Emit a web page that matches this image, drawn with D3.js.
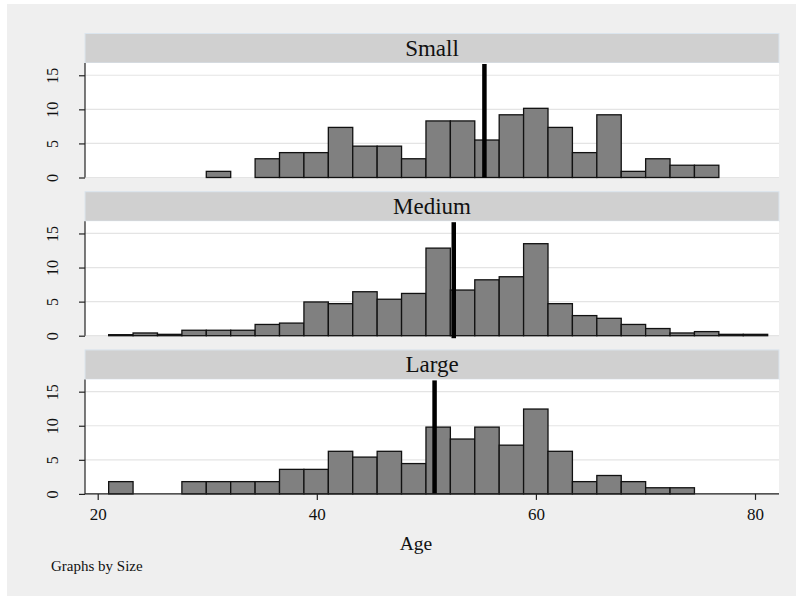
<!DOCTYPE html>
<html>
<head>
<meta charset="utf-8">
<script src="https://cdn.jsdelivr.net/npm/d3@7"></script>
<style>
  html, body { margin: 0; padding: 0; background: #ffffff; }
</style>
</head>
<body>
<svg id="chart" width="796" height="596" font-family="Liberation Serif"></svg>
<script>
// ---- data (percent of observations per age bin) ----
const panels = ["Small", "Medium", "Large"];
const binStart = 21;
const binWidth = 2.228;
const smallValues  = [0, 0, 0, 0, 0.9, 0, 2.75, 3.65, 3.65, 7.35, 4.6, 4.6, 2.75, 8.3, 8.3, 5.5, 9.2, 10.15, 7.35, 3.65, 9.2, 0.9, 2.75, 1.8, 1.8, 0, 0];
const mediumValues = [0.15, 0.4, 0.2, 0.8, 0.8, 0.8, 1.65, 1.85, 4.95, 4.7, 6.45, 5.35, 6.2, 12.85, 6.7, 8.2, 8.65, 13.5, 4.7, 2.95, 2.55, 1.65, 1.05, 0.4, 0.6, 0.2, 0.2];
const largeValues  = [1.8, 0, 0, 1.8, 1.8, 1.8, 1.8, 3.6, 3.6, 6.25, 5.4, 6.25, 4.45, 9.8, 8.05, 9.8, 7.15, 12.45, 6.25, 1.8, 2.7, 1.8, 0.9, 0.9, 0, 0, 0];
const panelValues = [smallValues, mediumValues, largeValues];
const meanAges = [55.3, 52.5, 50.75];
const yTicks = [0, 5, 10, 15];
const xTicks = [20, 40, 60, 80];
const xTitle = "Age";
const noteText = "Graphs by Size";

// ---- layout ----
const FONT = "Liberation Serif";
const svg = d3.select("#chart");
const plotLeft = 85, plotRight = 779;
const panelTop0 = 63, panelStep = 158.2, panelH = 114.5, stripH = 29.5;

svg.append("rect").attr("x", 7).attr("y", 4).attr("width", 789).attr("height", 592).attr("fill", "#efefef");

const x = d3.scaleLinear().domain([18.84, 82.19]).range([plotLeft, plotRight]);

panels.forEach((name, i) => {
  const top = panelTop0 + panelStep * i;
  const bottom = top + panelH;
  const y = d3.scaleLinear().domain([0, 16.8]).range([bottom, top]);
  const g = svg.append("g");

  // strip
  g.append("rect")
    .attr("x", plotLeft).attr("y", top - stripH)
    .attr("width", plotRight - plotLeft).attr("height", stripH)
    .attr("fill", "#d0d0d0").attr("stroke", "#dbe5ee").attr("stroke-width", 1);
  g.append("text")
    .attr("x", (plotLeft + plotRight) / 2).attr("y", top - 7)
    .attr("text-anchor", "middle").attr("font-size", 23).attr("fill", "#111")
    .attr("font-family", FONT)
    .text(name);

  // plot region
  g.append("rect")
    .attr("x", plotLeft).attr("y", top)
    .attr("width", plotRight - plotLeft).attr("height", panelH)
    .attr("fill", "#ffffff");

  // gridlines
  g.selectAll(".grid").data(yTicks).enter().append("line")
    .attr("x1", plotLeft).attr("x2", plotRight)
    .attr("y1", d => y(d)).attr("y2", d => y(d))
    .attr("stroke", "#e4e4e4").attr("stroke-width", 1.2);

  // bars
  const vals = panelValues[i];
  g.selectAll(".bar").data(vals.map((v, k) => ({ k, v })).filter(d => d.v > 0)).enter().append("rect")
    .attr("x", d => x(binStart + d.k * binWidth))
    .attr("width", d => x(binStart + (d.k + 1) * binWidth) - x(binStart + d.k * binWidth))
    .attr("y", d => y(d.v))
    .attr("height", d => y(0) - y(d.v))
    .attr("fill", "#808080").attr("stroke", "#111").attr("stroke-width", 1.3);

  // mean line
  g.append("line")
    .attr("x1", x(meanAges[i])).attr("x2", x(meanAges[i]))
    .attr("y1", y(16.8) + 1).attr("y2", y(0) + (i === 1 ? 2.5 : 0))
    .attr("stroke", "#000").attr("stroke-width", 4.5);

  // y axis
  const yAxis = d3.axisLeft(y).tickValues(yTicks).tickSize(6).tickFormat(d3.format("d"));
  const ya = g.append("g").attr("transform", `translate(${plotLeft},0)`).call(yAxis);
  ya.attr("font-family", FONT).attr("font-size", 16);
  ya.select(".domain").attr("d", `M0,${top}V${bottom}`).attr("stroke", "#222").attr("stroke-width", 1.2);
  ya.selectAll(".tick line").attr("stroke", "#222").attr("stroke-width", 1.2);
  ya.selectAll(".tick text")
    .attr("font-family", FONT).attr("font-size", 16).attr("fill", "#111")
    .attr("x", 0).attr("dy", 0)
    .attr("text-anchor", "middle")
    .attr("transform", "translate(-27,0) rotate(-90)");

  if (i === panels.length - 1) {
    const xAxis = d3.axisBottom(x).tickValues(xTicks).tickSize(6).tickFormat(d3.format("d"));
    const xa = g.append("g").attr("transform", `translate(0,${bottom})`).call(xAxis);
    xa.attr("font-family", FONT).attr("font-size", 17);
    xa.select(".domain").attr("d", `M${plotLeft},0H${plotRight}`).attr("stroke", "#222").attr("stroke-width", 1.2);
    xa.selectAll(".tick line").attr("stroke", "#222").attr("stroke-width", 1.2);
    xa.selectAll(".tick text")
      .attr("font-family", FONT).attr("font-size", 17).attr("fill", "#111")
      .attr("y", 14).attr("dy", "0.71em");
  }
});

// x title
svg.append("text")
  .attr("x", (plotLeft + plotRight) / 2 - 16).attr("y", 550)
  .attr("text-anchor", "middle").attr("font-size", 19.5).attr("fill", "#111")
  .attr("font-family", FONT)
  .text(xTitle);

// note
svg.append("text")
  .attr("x", 51).attr("y", 571)
  .attr("font-size", 15).attr("fill", "#111")
  .attr("font-family", FONT)
  .text(noteText);
</script>
</body>
</html>
